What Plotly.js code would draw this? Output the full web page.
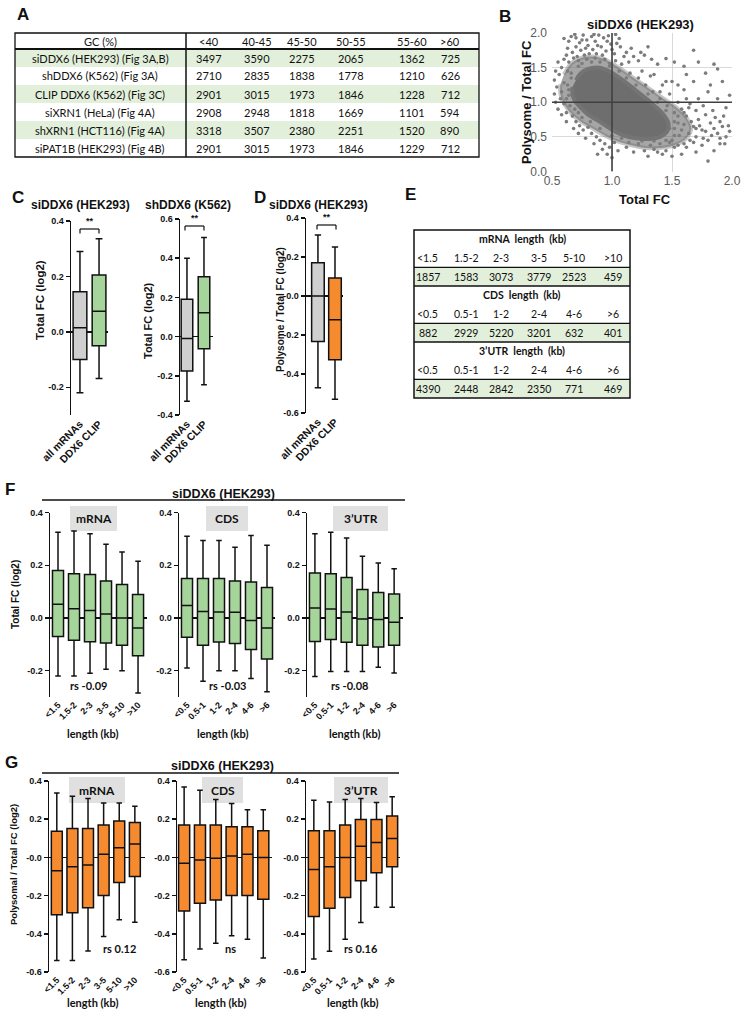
<!DOCTYPE html>
<html>
<head>
<meta charset="utf-8">
<script src="https://cdn.plot.ly/plotly-3.0.1.min.js"></script>
<style>html,body{margin:0;padding:0;background:#fff;}#fig{width:748px;height:1015px;}</style>
</head>
<body>
<div id="fig"></div>
<script>
// ================= DATA =================
// Panel A
const gcBins = ['<40','40-45','45-50','50-55','55-60','>60'];
const gcRowLabels = ['siDDX6 (HEK293) (Fig 3A,B)','shDDX6 (K562) (Fig 3A)','CLIP DDX6 (K562) (Fig 3C)','siXRN1 (HeLa) (Fig 4A)','shXRN1 (HCT116) (Fig 4A)','siPAT1B (HEK293) (Fig 4B)'];
const gcSiDDX6 = [3497,3590,2275,2065,1362,725];
const gcShDDX6 = [2710,2835,1838,1778,1210,626];
const gcClip = [2901,3015,1973,1846,1228,712];
const gcSiXRN1 = [2908,2948,1818,1669,1101,594];
const gcShXRN1 = [3318,3507,2380,2251,1520,890];
const gcSiPAT1B = [2901,3015,1973,1846,1229,712];

// Panel B (scatter): outline of medium-density halo, dense core, and individual points
const haloX = [0.60,0.66,0.74,0.84,0.94,1.04,1.14,1.24,1.34,1.44,1.54,1.62,1.66,1.62,1.52,1.40,1.28,1.16,1.04,0.94,0.84,0.74,0.66,0.60,0.57,0.57];
const haloY = [1.40,1.56,1.64,1.66,1.62,1.52,1.40,1.28,1.16,1.04,0.92,0.78,0.62,0.48,0.38,0.34,0.34,0.38,0.44,0.52,0.62,0.72,0.84,0.98,1.12,1.26];
const coreX = [0.70,0.74,0.80,0.88,0.96,1.04,1.12,1.20,1.28,1.36,1.43,1.47,1.46,1.40,1.30,1.20,1.10,1.02,0.95,0.88,0.80,0.74,0.69,0.67,0.67];
const coreY = [1.32,1.42,1.48,1.50,1.46,1.38,1.28,1.17,1.06,0.94,0.82,0.70,0.58,0.50,0.47,0.48,0.52,0.58,0.66,0.74,0.82,0.92,1.02,1.12,1.22];
const ptsX = [0.60,0.64,0.66,0.70,0.73,0.76,0.79,0.83,0.86,0.89,0.93,0.97,1.03,1.06,0.63,0.67,0.70,0.74,0.77,0.80,0.84,0.87,0.91,0.95,0.99,1.02,1.07,1.12,0.60,0.64,0.68,0.72,0.75,0.79,0.83,0.86,0.90,0.94,0.98,1.03,1.08,1.14,1.18,1.22,1.27,1.33,1.38,1.45,1.52,1.60,1.68,1.78,1.85,1.88,
 0.52,0.54,0.56,0.58,0.60,0.62,0.63,0.65,0.66,0.64,0.60,0.57,0.55,0.62,0.67,0.70,0.73,0.76,0.80,0.83,0.87,0.90,0.94,0.98,0.96,1.02,1.05,0.72,
 1.15,1.22,1.28,1.34,1.40,1.46,1.52,1.25,1.32,1.42,1.48,1.55,1.50,1.60,1.58,1.62,1.55,1.58,1.52,1.48,1.40,1.32,1.22,1.14,1.08,
 1.65,1.70,1.72,1.68,1.75,1.78,1.82,1.85,1.88,1.92,1.95,1.98,1.90,1.85,1.80,1.75,1.70,1.65,1.62,1.58,1.55,1.50,1.45,1.38,1.30,1.80,1.93,1.88,1.80,1.72,1.95,1.68,1.92,
 0.66,0.72,0.98,1.06,1.12,1.20,1.30,1.38,1.45,1.52,1.52,1.45,1.35,1.25,1.00,0.90,0.82,0.75,0.69,0.64,0.63,
 0.62,0.69,0.71,0.75,0.78,0.81,0.85,0.88,0.92,0.96,1.00,1.04,1.10,1.16,1.24,1.30,0.58,0.55,0.53,
 1.50,1.56,1.60,1.64,1.66,1.70,1.73,1.76,1.78,1.83,1.86,1.90,1.94,1.97,1.60,1.64,1.70,1.52,1.42,1.35,1.27,1.18,1.12,1.60,1.68,1.55,1.48,1.84,1.90,1.76,
 1.40,1.45,1.35,1.55,1.62,1.72,1.82,1.98,1.62,
 0.68,0.72,0.78,0.85,0.92,1.00,0.88,0.62,0.58,0.53,0.52];
const ptsY = [1.92,1.88,1.95,1.93,1.86,1.97,1.90,1.95,1.88,1.97,1.93,1.96,1.98,1.92,1.78,1.72,1.80,1.75,1.68,1.82,1.76,1.70,1.80,1.74,1.84,1.70,1.80,1.72,1.62,1.58,1.64,1.60,1.56,1.62,1.58,1.64,1.58,1.62,1.56,1.60,1.55,1.58,1.66,1.60,1.68,1.62,1.55,1.63,1.58,1.52,1.75,1.42,1.55,1.48,
 1.32,1.22,1.40,1.15,1.28,1.05,1.45,0.95,1.35,1.18,0.98,1.05,0.90,0.85,0.80,0.72,0.66,0.60,0.64,0.55,0.50,0.45,0.40,0.35,0.25,0.42,0.30,0.85,
 1.42,1.35,1.25,1.15,1.05,0.95,0.85,1.45,1.38,1.25,1.12,1.00,1.30,1.18,0.90,0.80,0.70,0.60,0.52,0.42,0.40,0.38,0.40,0.42,0.48,
 0.98,0.88,0.75,0.65,0.60,0.82,0.70,0.62,0.55,0.65,0.50,0.58,0.40,0.30,0.45,0.38,0.28,0.45,0.35,0.25,0.38,0.22,0.30,0.28,0.22,0.15,0.80,1.05,1.15,1.05,0.92,1.30,1.30,
 1.42,1.52,1.52,1.45,1.35,1.25,1.12,1.00,0.88,0.72,0.62,0.45,0.44,0.44,0.52,0.62,0.72,0.78,0.90,1.10,1.25,
 1.68,1.98,1.66,1.90,1.78,1.70,1.98,1.82,1.68,1.88,1.76,1.85,1.66,1.78,1.72,1.80,1.50,1.58,1.45,
 0.45,0.52,0.68,0.55,0.72,0.50,0.66,0.48,0.58,0.52,0.78,0.48,0.40,0.66,0.85,0.92,0.62,0.35,0.25,0.32,0.30,0.28,0.35,0.40,0.42,0.80,0.62,0.88,0.72,0.95,
 1.15,1.30,1.40,1.25,1.40,1.58,1.25,1.10,1.05,
 0.62,0.55,0.48,0.40,0.32,0.20,0.25,0.72,0.82,1.00,1.12];

// Panels C / D (box stats: [all mRNAs, DDX6 CLIP])
const cGroups = ['all mRNAs','DDX6 CLIP'];
const c1Low = [-0.22,-0.168], c1Q1 = [-0.10,-0.05], c1Med = [0.015,0.074], c1Q3 = [0.145,0.205], c1High = [0.29,0.336];
const c2Low = [-0.33,-0.246], c2Q1 = [-0.175,-0.062], c2Med = [-0.01,0.122], c2Q3 = [0.19,0.305], c2High = [0.40,0.505];
const dLow = [-0.47,-0.53], dQ1 = [-0.233,-0.327], dMed = [0.0,-0.122], dQ3 = [0.171,0.092], dHigh = [0.313,0.251];

// Panel E
const mrnaBins = ['<1.5','1.5-2','2-3','3-5','5-10','>10'];
const mrnaCounts = [1857,1583,3073,3779,2523,459];
const cdsBins = ['<0.5','0.5-1','1-2','2-4','4-6','>6'];
const cdsCounts = [882,2929,5220,3201,632,401];
const utrBins = ['<0.5','0.5-1','1-2','2-4','4-6','>6'];
const utrCounts = [4390,2448,2842,2350,771,469];

// Panel F (Total FC log2)
const fMrnaLow = [-0.22,-0.22,-0.21,-0.195,-0.20,-0.285];
const fMrnaQ1 = [-0.07,-0.085,-0.09,-0.095,-0.104,-0.143];
const fMrnaMed = [0.052,0.035,0.028,0.015,0.0,-0.038];
const fMrnaQ3 = [0.18,0.168,0.165,0.14,0.127,0.089];
const fMrnaHigh = [0.325,0.33,0.32,0.28,0.25,0.215];
const fCdsLow = [-0.19,-0.24,-0.20,-0.20,-0.23,-0.28];
const fCdsQ1 = [-0.073,-0.104,-0.091,-0.097,-0.12,-0.156];
const fCdsMed = [0.047,0.025,0.023,0.022,-0.01,-0.038];
const fCdsQ3 = [0.15,0.15,0.15,0.14,0.137,0.116];
const fCdsHigh = [0.31,0.294,0.294,0.268,0.313,0.276];
const fUtrLow = [-0.222,-0.203,-0.203,-0.203,-0.187,-0.209];
const fUtrQ1 = [-0.089,-0.082,-0.092,-0.104,-0.11,-0.104];
const fUtrMed = [0.038,0.034,0.023,-0.004,-0.006,-0.016];
const fUtrQ3 = [0.171,0.168,0.154,0.108,0.097,0.091];
const fUtrHigh = [0.32,0.325,0.304,0.234,0.209,0.187];

// Panel G (Polysomal / Total FC log2)
const gMrnaLow = [-0.54,-0.54,-0.49,-0.414,-0.327,-0.34];
const gMrnaQ1 = [-0.30,-0.29,-0.263,-0.20,-0.132,-0.10];
const gMrnaMed = [-0.07,-0.049,-0.04,0.017,0.05,0.07];
const gMrnaQ3 = [0.137,0.151,0.151,0.169,0.19,0.183];
const gMrnaHigh = [0.337,0.32,0.308,0.285,0.285,0.268];
const gCdsLow = [-0.536,-0.48,-0.449,-0.41,-0.428,-0.527];
const gCdsQ1 = [-0.28,-0.24,-0.223,-0.20,-0.20,-0.219];
const gCdsMed = [-0.031,-0.014,-0.005,0.007,0.017,0.0];
const gCdsQ3 = [0.169,0.169,0.169,0.16,0.16,0.139];
const gCdsHigh = [0.369,0.351,0.303,0.282,0.25,0.25];
const gUtrLow = [-0.532,-0.492,-0.428,-0.341,-0.261,-0.261];
const gUtrQ1 = [-0.31,-0.266,-0.21,-0.122,-0.08,-0.049];
const gUtrMed = [-0.063,-0.049,0.0,0.059,0.078,0.099];
const gUtrQ3 = [0.139,0.139,0.169,0.198,0.198,0.217];
const gUtrHigh = [0.299,0.29,0.303,0.308,0.287,0.317];

// Tick labels
const bXTicks = [0.5,1.0,1.5,2.0], bYTicks = [0,0.5,1.0,1.5,2.0];
const c1Ticks = [-0.2,0,0.2,0.4], c1TickText = ['-0.2','0.0','0.2','0.4'];
const c2Ticks = [-0.4,-0.2,0,0.2,0.4,0.6], c2TickText = ['-0.4','-0.2','0.0','0.2','0.4','0.6'];
const dTicks = [-0.6,-0.4,-0.2,0,0.2,0.4], dTickText = ['-0.6','-0.4','-0.2','-0.0','0.2','0.4'];
const fTicks = [-0.2,0,0.2,0.4], fTickText = ['-0.2','0.0','0.2','0.4'];
const gTicks = [-0.6,-0.4,-0.2,0,0.2,0.4], gTickText = ['-0.6','-0.4','-0.2','-0.0','0.2','0.4'];

// ================= HELPERS =================
const W = 748, H = 1015;
const px = v => v / W, py = v => 1 - v / H;
const esc = s => String(s).replace(/</g, '&lt;');
const ARIAL = 'Liberation Sans, Arial, sans-serif';
const CALI = 'Lato, Liberation Sans, sans-serif';
const INK = '#111';
const shapes = [], annotations = [];
function T(x, y, text, size, o) {
  o = o || {};
  annotations.push({xref:'paper', yref:'paper', x:px(x), y:py(y), text:text, showarrow:false,
    xanchor:o.xa || 'center', yanchor:o.ya || 'middle', textangle:o.rot || 0,
    font:{family:o.fam || ARIAL, size:size, color:o.color || INK}});
}
function Rect(x0, y0, x1, y1, fill, lw, layer) {
  shapes.push({type:'rect', xref:'paper', yref:'paper', x0:px(x0), x1:px(x1), y0:py(y0), y1:py(y1),
    fillcolor:fill || 'rgba(0,0,0,0)', line:{width:lw || 0, color:INK}, layer:layer || 'above'});
}
function Line(x0, y0, x1, y1, lw, color) {
  shapes.push({type:'line', xref:'paper', yref:'paper', x0:px(x0), x1:px(x1), y0:py(y0), y1:py(y1),
    line:{width:lw, color:color || INK}});
}

const layout = {
  width:W, height:H, margin:{l:0, r:0, t:0, b:0},
  paper_bgcolor:'#fff', plot_bgcolor:'rgba(0,0,0,0)', showlegend:false, hovermode:false,
  font:{family:ARIAL, color:INK}
};
const traces = [];

function xAx(n, dom, rng, labels, size) {
  layout['xaxis' + n] = {domain:[px(dom[0]), px(dom[1])], range:rng, anchor:'y' + n,
    showgrid:false, zeroline:false, showline:false, ticks:'', tickvals:labels.map((_, i) => i),
    ticktext:labels.map(s => '<b>' + esc(s) + '</b>'), tickangle:-45, tickfont:{family:ARIAL, size:size, color:INK}, fixedrange:true};
}
function yAx(n, dom, rng, vals, texts, size) {
  layout['yaxis' + n] = {domain:[py(dom[1]), py(dom[0])], range:rng, anchor:'x' + n,
    showgrid:false, zeroline:true, zerolinecolor:INK, zerolinewidth:1.5,
    showline:true, linecolor:INK, linewidth:1.5, ticks:'outside', ticklen:4, tickwidth:1.5, tickcolor:INK,
    tickvals:vals, ticktext:texts.map(s => '<b>' + s + '</b>'), tickfont:{family:ARIAL, size:size, color:INK}, fixedrange:true};
}
function boxes(n, xs, low, q1, med, q3, high, fill, width) {
  traces.push({type:'box', xaxis:'x' + n, yaxis:'y' + n, x:xs, lowerfence:low, q1:q1, median:med, q3:q3, upperfence:high,
    fillcolor:fill, line:{color:INK, width:1.5}, width:width, whiskerwidth:0.5, boxpoints:false, hoverinfo:'skip', showlegend:false});
}
const pick = (a, i) => [a[i]];
const GRAY = '#cfcfcf', GREEN = '#a6d59b', ORANGE = '#f58a2f', TGREEN = '#e2efda';

// ================= PANEL A : table =================
(function(){
  const l = 15, r = 479, t = 33, hb = 49, rh = 18, div = 186, labX = 100;
  const cols = [209,257,302,351,412,450];
  const rows = [gcSiDDX6, gcShDDX6, gcClip, gcSiXRN1, gcShXRN1, gcSiPAT1B];
  T(labX, (t + hb) / 2, 'GC (%)', 11, {fam:CALI});
  gcBins.forEach((b, j) => T(cols[j], (t + hb) / 2, esc(b), 11, {fam:CALI}));
  rows.forEach((vals, i) => {
    const y0 = hb + i * rh;
    if (i % 2 === 0) Rect(l, y0, r, y0 + rh, TGREEN, 0, 'below');
    T(labX, y0 + rh / 2, gcRowLabels[i], 11, {fam:CALI});
    vals.forEach((v, j) => T(cols[j], y0 + rh / 2, String(v), 11, {fam:CALI}));
  });
  Rect(l, t, r, hb + 6 * rh, null, 1.3);
  Line(l, hb, r, hb, 2);
  Line(div, t, div, hb + 6 * rh, 1.5);
})();

// ================= PANEL E : table =================
(function(){
  const l = 414, r = 630, t = 230, rh = 18.67, cx = 522;
  const cols = [428,466,501,539,574,613];
  const secs = [['mRNA  length  (kb)', mrnaBins, mrnaCounts], ['CDS  length  (kb)', cdsBins, cdsCounts], ['3’UTR  length  (kb)', utrBins, utrCounts]];
  secs.forEach((s, k) => {
    const y0 = t + k * 3 * rh;
    Rect(l, y0 + 2 * rh, r, y0 + 3 * rh, TGREEN, 0, 'below');
    T(cx, y0 + rh / 2, '<b>' + s[0] + '</b>', 10.5, {fam:CALI});
    s[1].forEach((b, j) => T(cols[j], y0 + 1.5 * rh, esc(b), 10.5, {fam:CALI}));
    s[2].forEach((v, j) => T(cols[j], y0 + 2.5 * rh, String(v), 10.5, {fam:CALI}));
    Line(l, y0 + 2 * rh, r, y0 + 2 * rh, 1.3);
    if (k < 2) Line(l, y0 + 3 * rh, r, y0 + 3 * rh, 1.5);
  });
  Rect(l, t, r, t + 9 * rh, null, 1.5);
})();

// ================= PANEL B : scatter =================
traces.push({type:'scatter', mode:'lines', x:haloX, y:haloY, fill:'toself', fillcolor:'rgba(112,112,112,0.62)',
  line:{shape:'spline', color:'rgba(112,112,112,0.4)', width:4}, xaxis:'x', yaxis:'y', hoverinfo:'skip'});
traces.push({type:'scatter', mode:'markers', x:ptsX, y:ptsY, marker:{size:3.6, color:'#7c7c7c'}, xaxis:'x', yaxis:'y', hoverinfo:'skip'});
traces.push({type:'scatter', mode:'lines', x:coreX, y:coreY, fill:'toself', fillcolor:'#6e6e6e',
  line:{shape:'spline', color:'#747474', width:4}, xaxis:'x', yaxis:'y', hoverinfo:'skip'});
layout.xaxis = {domain:[px(552), px(732)], range:[0.5, 2.0], anchor:'y', tickvals:bXTicks, tickformat:'.1f',
  showgrid:true, gridcolor:'#d9d9d9', gridwidth:1, zeroline:false, showline:false, ticks:'',
  tickfont:{family:ARIAL, size:12, color:'#595959'}, fixedrange:true};
layout.yaxis = {domain:[py(171.5), py(33)], range:[0, 2.0], anchor:'x', tickvals:bYTicks, tickformat:'.1f',
  showgrid:true, gridcolor:'#d9d9d9', gridwidth:1, zeroline:false, showline:false, ticks:'', ticklabelstandoff:4,
  tickfont:{family:ARIAL, size:12, color:'#595959'}, fixedrange:true};
shapes.push({type:'line', xref:'x', yref:'y', x0:1, x1:1, y0:0, y1:2, line:{color:'#404040', width:1.6}, layer:'above'});
shapes.push({type:'line', xref:'x', yref:'y', x0:0.5, x1:2, y0:1, y1:1, line:{color:'#404040', width:1.6}, layer:'above'});
T(497, 16, '<b>B</b>', 17, {xa:'left'});
T(640, 25, '<b>siDDX6 (HEK293)</b>', 13);
T(526, 102, '<b>Polysome / Total FC</b>', 13, {rot:-90});
T(645, 199, '<b>Total FC</b>', 13);

// ================= PANEL C =================
xAx(2, [71, 108], [-0.47, 1.47], cGroups, 10.5);
yAx(2, [221, 415], [-0.3, 0.4], c1Ticks, c1TickText, 9);
boxes(2, [0], pick(c1Low,0), pick(c1Q1,0), pick(c1Med,0), pick(c1Q3,0), pick(c1High,0), GRAY, 0.72);
boxes(2, [1], pick(c1Low,1), pick(c1Q1,1), pick(c1Med,1), pick(c1Q3,1), pick(c1High,1), GREEN, 0.72);
xAx(3, [180, 213], [-0.41, 1.53], cGroups, 10.5);
yAx(3, [219, 415], [-0.4, 0.6], c2Ticks, c2TickText, 9);
boxes(3, [0], pick(c2Low,0), pick(c2Q1,0), pick(c2Med,0), pick(c2Q3,0), pick(c2High,0), GRAY, 0.68);
boxes(3, [1], pick(c2Low,1), pick(c2Q1,1), pick(c2Med,1), pick(c2Q3,1), pick(c2High,1), GREEN, 0.68);
T(10, 197, '<b>C</b>', 17, {xa:'left'});
T(80, 205, '<b>siDDX6 (HEK293)</b>', 12);
T(188, 205, '<b>shDDX6 (K562)</b>', 12);
T(40, 300, '<b>Total FC (log2)</b>', 11.5, {rot:-90});
T(148, 321, '<b>Total FC (log2)</b>', 11, {rot:-90});
function bracket(x0, x1, y, leg, sy) {
  Line(x0, y, x1, y, 1.2); Line(x0, y, x0, y + leg, 1.2); Line(x1, y, x1, y + leg, 1.2);
  T((x0 + x1) / 2, sy, '<b>**</b>', 9);
}
bracket(80, 99, 229, 4.5, 221);
bracket(185, 204, 226, 4.5, 218);

// ================= PANEL D =================
xAx(4, [306, 343], [-0.7, 1.47], cGroups, 10.5);
yAx(4, [218, 413], [-0.6, 0.4], dTicks, dTickText, 9);
boxes(4, [0], pick(dLow,0), pick(dQ1,0), pick(dMed,0), pick(dQ3,0), pick(dHigh,0), GRAY, 0.74);
boxes(4, [1], pick(dLow,1), pick(dQ1,1), pick(dMed,1), pick(dQ3,1), pick(dHigh,1), ORANGE, 0.74);
T(252, 197, '<b>D</b>', 17, {xa:'left'});
T(318, 205, '<b>siDDX6 (HEK293)</b>', 12);
T(280, 310, '<b>Polysome / Total FC (log2)</b>', 10, {rot:-90});
bracket(317, 336, 225, 4.5, 217);

T(15, 15, '<b>A</b>', 17, {xa:'left'});
T(403, 194, '<b>E</b>', 17, {xa:'left'});

// ================= PANEL F =================
const idx6 = [0,1,2,3,4,5];
xAx(5, [50, 147], [-0.5, 5.56], mrnaBins, 9);
yAx(5, [512.6, 697], [-0.3, 0.4], fTicks, fTickText, 9);
boxes(5, idx6, fMrnaLow, fMrnaQ1, fMrnaMed, fMrnaQ3, fMrnaHigh, GREEN, 0.69);
xAx(6, [179, 275], [-0.5, 5.5], cdsBins, 9);
yAx(6, [512.6, 697], [-0.3, 0.4], fTicks, fTickText, 9);
boxes(6, idx6, fCdsLow, fCdsQ1, fCdsMed, fCdsQ3, fCdsHigh, GREEN, 0.69);
xAx(7, [307, 403], [-0.5, 5.56], utrBins, 9);
yAx(7, [512.6, 697], [-0.3, 0.4], fTicks, fTickText, 9);
boxes(7, idx6, fUtrLow, fUtrQ1, fUtrMed, fUtrQ3, fUtrHigh, GREEN, 0.69);
T(3, 489, '<b>F</b>', 17, {xa:'left'});
T(224, 494, '<b>siDDX6 (HEK293)</b>', 12.5);
Line(42, 500, 405, 500, 1.5);
T(15, 595, '<b>Total FC (log2)</b>', 10, {rot:-90});
[[70,117,'mRNA'],[206,248,'CDS'],[333,388,'3’UTR']].forEach(b => { Rect(b[0], 506, b[1], 531, '#e0e0e0', 0, 'below'); T((b[0]+b[1])/2, 518.5, '<b>' + b[2] + '</b>', 12, {fam:CALI}); });
T(88, 685, '<b>rs -0.09</b>', 11, {fam:CALI});
T(227, 685, '<b>rs -0.03</b>', 11, {fam:CALI});
T(349, 685, '<b>rs -0.08</b>', 11, {fam:CALI});
[92, 222, 354].forEach(x => T(x, 733, '<b>length (kb)</b>', 11, {fam:CALI}));

// ================= PANEL G =================
xAx(8, [49, 145], [-0.5, 5.65], mrnaBins, 9);
yAx(8, [781, 972], [-0.6, 0.4], gTicks, gTickText, 9);
boxes(8, idx6, gMrnaLow, gMrnaQ1, gMrnaMed, gMrnaQ3, gMrnaHigh, ORANGE, 0.7);
xAx(9, [177, 272], [-0.45, 5.55], cdsBins, 9);
yAx(9, [781, 972], [-0.6, 0.4], gTicks, gTickText, 9);
boxes(9, idx6, gCdsLow, gCdsQ1, gCdsMed, gCdsQ3, gCdsHigh, ORANGE, 0.7);
xAx(10, [306, 400], [-0.5, 5.5], utrBins, 9);
yAx(10, [781, 972], [-0.6, 0.4], gTicks, gTickText, 9);
boxes(10, idx6, gUtrLow, gUtrQ1, gUtrMed, gUtrQ3, gUtrHigh, ORANGE, 0.7);
T(3, 762, '<b>G</b>', 17, {xa:'left'});
T(222, 766, '<b>siDDX6 (HEK293)</b>', 12.5);
Line(42, 773, 399, 773, 1.5);
T(13, 865, '<b>Polysomal / Total FC (log2)</b>', 9.5, {rot:-90});
[[69,125,'mRNA'],[202,243,'CDS'],[334,388,'3’UTR']].forEach(b => { Rect(b[0], 777, b[1], 803, '#e0e0e0', 0, 'below'); T((b[0]+b[1])/2, 790, '<b>' + b[2] + '</b>', 12, {fam:CALI}); });
T(119, 948, '<b>rs 0.12</b>', 11, {fam:CALI});
T(230, 948, '<b>ns</b>', 11, {fam:CALI});
T(361, 948, '<b>rs 0.16</b>', 11, {fam:CALI});
[92, 220, 352].forEach(x => T(x, 1002, '<b>length (kb)</b>', 11, {fam:CALI}));

layout.shapes = shapes;
layout.annotations = annotations;
Plotly.newPlot('fig', traces, layout, {staticPlot:true, displayModeBar:false});
</script>
</body>
</html>
